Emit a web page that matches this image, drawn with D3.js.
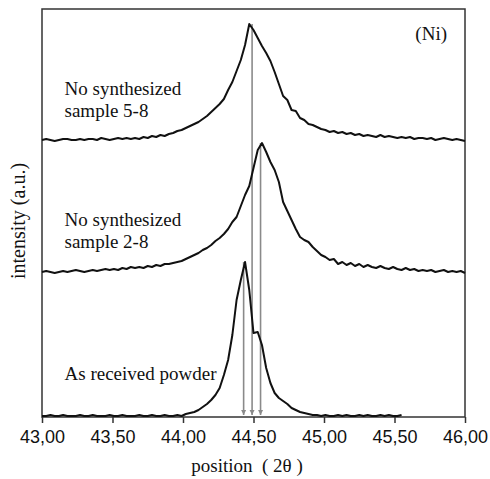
<!DOCTYPE html>
<html>
<head>
<meta charset="utf-8">
<script src="https://cdn.jsdelivr.net/npm/d3@7"></script>
<style>
  html, body { margin: 0; padding: 0; background: #fff; }
  svg text { fill: #111; }
  .serif { font-family: "Liberation Serif", "DejaVu Serif", serif; }
  .tick text { font-family: "Liberation Sans", Arial, sans-serif; font-size: 18px; fill: #111; }
</style>
</head>
<body>
<div id="chart"></div>
<script>
;(function () {
    "use strict";

    // 2-theta sampling positions (degrees)
    var twoTheta = [43.00,43.03,43.06,43.09,43.12,43.15,43.18,43.21,43.24,43.27,
        43.30,43.33,43.36,43.39,43.42,43.45,43.48,43.51,43.54,43.57,
        43.60,43.63,43.66,43.69,43.72,43.75,43.78,43.81,43.84,43.87,
        43.90,43.93,43.96,43.99,44.02,44.05,44.08,44.11,44.14,44.17,
        44.20,44.23,44.26,44.29,44.32,44.35,44.38,44.41,44.44,44.47,
        44.50,44.53,44.56,44.59,44.62,44.65,44.68,44.71,44.74,44.77,
        44.80,44.83,44.86,44.89,44.92,44.95,44.98,45.01,45.04,45.07,
        45.10,45.13,45.16,45.19,45.22,45.25,45.28,45.31,45.34,45.37,
        45.40,45.43,45.46,45.49,45.52,45.55,45.58,45.61,45.64,45.67,
        45.70,45.73,45.76,45.79,45.82,45.85,45.88,45.91,45.94,45.97,46.00];

    // intensities (a.u., stacked offsets included)
    var sample58 = [277,278,277,276,277,278,278,277,277,278,
        277,278,278,277,279,278,277,278,279,278,
        279,278,279,278,280,279,281,280,282,281,
        283,284,286,287,289,291,293,295,298,301,
        305,309,313,318,327,335,346,357,372,393,
        387,379,371,364,356,345,333,321,317,307,
        306,299,297,293,292,290,288,287,285,286,
        284,285,283,284,282,283,281,282,281,280,
        282,280,281,280,279,280,279,280,278,279,
        279,278,279,277,278,279,278,277,278,277,276];

    var sample28 = [145,146,145,144,145,146,145,146,147,146,
        145,146,147,146,147,148,147,148,147,149,
        148,150,149,150,149,151,150,152,151,153,
        153,154,155,156,158,160,162,164,167,169,
        172,176,179,183,188,195,200,211,222,231,
        249,267,274,265,255,247,235,215,206,197,
        188,180,177,175,170,166,162,160,157,158,
        153,155,152,154,151,153,150,152,150,149,
        151,149,148,150,148,147,149,147,148,146,
        147,146,147,145,146,147,145,146,145,146,144];

    var asReceived = [1,1,2,1,1,2,1,1,1,2,
        1,1,2,1,1,1,2,1,1,2,
        1,1,1,2,1,1,2,1,1,2,
        1,1,2,1,3,4,5,7,10,13,
        17,22,29,42,57,82,117,137,155,127,
        84,85,72,49,34,24,19,16,13,9,
        7,5,4,3,2,2,1,2,1,1,
        2,1,2,1,1,2,1,2,1,1,
        2,1,2,1,1,2,null,null,null,null,
        null,null,null,null,null,null,null,null,null,null,null];

    var peakMarkerPos = [44.43, 44.49, 44.55];
    var peakMarkerTop = [155, 393, 274];
    var markerBottom = 2;

    var tickValues = [43.0, 43.5, 44.0, 44.5, 45.0, 45.5, 46.0];
    var tickLabels = ["43,00", "43,50", "44,00", "44,50", "45,00", "45,50", "46,00"];

    var labelLines = [
        ["No synthesized", "sample 5-8"],
        ["No synthesized", "sample 2-8"],
        ["As received powder"]
    ];
    var labelAnchor = [[43.16, 322], [43.16, 191], [43.16, 37]];

    var width = 490, height = 479;
    var left = 42, right = 465, top = 9, bottom = 417;

    var x = d3.scaleLinear().domain([43, 46]).range([left, right]);
    var y = d3.scaleLinear().domain([0, 408]).range([bottom, top]);

    var svg = d3.select("#chart").append("svg")
        .attr("width", width)
        .attr("height", height);

    svg.append("defs").append("marker")
        .attr("id", "arrow")
        .attr("viewBox", "0 0 10 10")
        .attr("refX", 10)
        .attr("refY", 5)
        .attr("markerWidth", 5)
        .attr("markerHeight", 6)
        .attr("markerUnits", "userSpaceOnUse")
        .attr("orient", "auto")
        .append("path")
        .attr("d", "M0,0 L10,5 L0,10 z")
        .attr("fill", "#8a8a8a");

    // frame
    svg.append("rect")
        .attr("x", left)
        .attr("y", top)
        .attr("width", right - left)
        .attr("height", bottom - top)
        .attr("fill", "none")
        .attr("stroke", "#333")
        .attr("stroke-width", 1.5);

    // x axis ticks + labels
    var xAxis = d3.axisBottom(x)
        .tickValues(tickValues)
        .tickSize(6)
        .tickPadding(7)
        .tickFormat(function (d, i) { return tickLabels[i]; });

    var gx = svg.append("g")
        .attr("transform", "translate(0," + bottom + ")")
        .call(xAxis);
    gx.select(".domain").remove();
    gx.selectAll(".tick line").attr("stroke", "#333").attr("stroke-width", 1.5);

    // peak marker lines
    svg.selectAll("line.peak")
        .data(peakMarkerPos)
        .enter().append("line")
        .attr("class", "peak")
        .attr("x1", function (d) { return x(d); })
        .attr("x2", function (d) { return x(d); })
        .attr("y1", function (d, i) { return y(peakMarkerTop[i]); })
        .attr("y2", y(markerBottom))
        .attr("stroke", "#8a8a8a")
        .attr("stroke-width", 1.6)
        .attr("marker-end", "url(#arrow)");

    var line = d3.line()
        .defined(function (d) { return d[1] !== null; })
        .x(function (d) { return x(d[0]); })
        .y(function (d) { return y(d[1]); });

    [sample58, sample28, asReceived].forEach(function (series) {
        svg.append("path")
            .datum(twoTheta.map(function (t, i) { return [t, series[i]]; }))
            .attr("fill", "none")
            .attr("stroke", "#111")
            .attr("stroke-width", 2)
            .attr("stroke-linejoin", "round")
            .attr("d", line);
    });

    // curve labels
    labelLines.forEach(function (lines, k) {
        var t = svg.append("text")
            .attr("class", "serif")
            .attr("font-size", 19)
            .attr("x", x(labelAnchor[k][0]))
            .attr("y", y(labelAnchor[k][1]));
        lines.forEach(function (s, j) {
            t.append("tspan")
                .attr("x", x(labelAnchor[k][0]))
                .attr("dy", j === 0 ? 0 : 22)
                .text(s);
        });
    });

    svg.append("text")
        .attr("class", "serif")
        .attr("font-size", 19)
        .attr("text-anchor", "end")
        .attr("x", 447)
        .attr("y", 40)
        .text("(Ni)");

    svg.append("text")
        .attr("class", "serif")
        .attr("font-size", 19)
        .attr("text-anchor", "middle")
        .attr("x", 247)
        .attr("y", 472)
        .style("white-space", "pre")
        .text("position  ( 2\u03b8 )");

    svg.append("text")
        .attr("class", "serif")
        .attr("font-size", 20)
        .attr("text-anchor", "middle")
        .attr("transform", "translate(25,221) rotate(-90)")
        .text("intensity (a.u.)");

}());
</script>
</body>
</html>
